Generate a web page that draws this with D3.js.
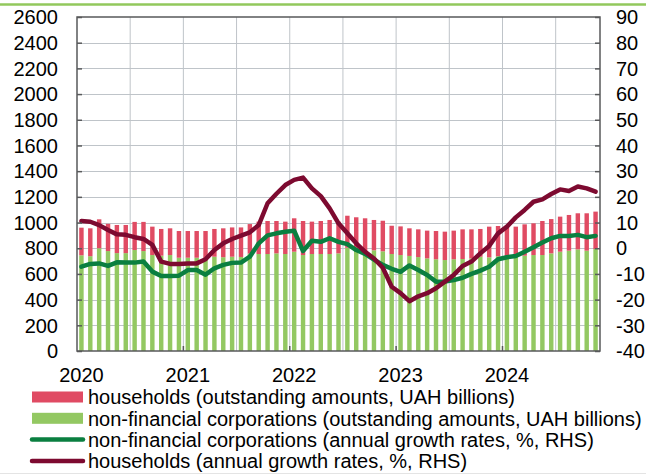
<!DOCTYPE html>
<html>
<head>
<meta charset="utf-8">
<script src="https://cdn.jsdelivr.net/npm/d3@7"></script>
<style>
  body { margin: 0; background: #fff; }
  svg { display: block; font-family: "Liberation Sans", Arial, sans-serif; }
</style>
</head>
<body>
<div id="viz"></div>
<script>
// monthly categories, Jan 2020 .. Nov 2024
const months = d3.timeMonth.range(new Date(2020, 0, 1), new Date(2024, 11, 1));
const yearLabels = ['2020', '2021', '2022', '2023', '2024'];

// outstanding amounts, UAH billions
const nfcAmounts = [745, 738, 800, 778, 762, 762, 786, 778, 747, 742,
  747, 726, 726, 726, 712, 734, 730, 734, 732, 758,
  755, 755, 760, 755, 773, 747, 755, 755, 755, 760,
  804, 791, 778, 784, 776, 755, 747, 740, 731, 721,
  714, 708, 714, 716, 721, 734, 729, 738, 730, 734,
  742, 747, 747, 760, 773, 781, 791, 781, 794];
const hhAmounts = [215, 217, 225, 212, 219, 219, 219, 227, 221, 208,
  208, 208, 208, 208, 222, 216, 225, 228, 230, 230,
  252, 257, 252, 252, 260, 265, 252, 257, 265, 247,
  249, 250, 255, 236, 238, 220, 223, 215, 216, 216,
  220, 221, 223, 231, 226, 216, 239, 235, 243, 234,
  244, 247, 265, 267, 273, 278, 281, 291, 291];

// annual growth rates, %, RHS
const nfcGrowth = [-7.2, -6.1, -5.9, -6.9, -5.5, -5.6, -5.6, -5.2, -9.1, -10.8,
  -10.8, -10.7, -8.5, -8.5, -10.3, -7.8, -6.5, -5.7, -5.6, -3.3,
  1.9, 5.0, 5.8, 6.4, 6.8, -1.1, 2.9, 2.5, 3.9, 2.5,
  1.6, -0.7, -2.2, -4.4, -6.5, -8.0, -9.2, -6.7, -8.5, -10.4,
  -13.0, -13.0, -12.4, -11.5, -10.0, -8.7, -7.2, -4.3, -3.5, -3.0,
  -1.4, 0.4, 2.2, 3.9, 4.8, 4.8, 5.2, 4.3, 4.8];
const hhGrowth = [10.6, 10.3, 9.0, 7.1, 5.4, 5.2, 4.3, 3.6, 1.3, -5.2,
  -6.1, -6.1, -5.9, -5.9, -4.3, -0.7, 1.9, 3.6, 4.9, 6.2,
  9.0, 17.5, 21.2, 24.6, 26.6, 27.5, 23.3, 20.3, 15.5, 9.7,
  5.8, 1.9, -1.4, -4.0, -7.6, -15.0, -17.5, -20.6, -18.7, -17.5,
  -15.6, -13.0, -10.4, -6.9, -5.2, -2.0, 0.9, 5.8, 8.4, 12.0,
  14.9, 18.1, 19.0, 21.1, 22.9, 22.3, 24.0, 23.3, 22.0];

const leftTicks = d3.range(0, 2601, 200);
const rightTicks = d3.range(-40, 91, 10);

const legendItems = [
  { label: 'households (outstanding amounts, UAH billions)', type: 'rect', color: '#e04b63' },
  { label: 'non-financial corporations (outstanding amounts, UAH billions)', type: 'rect', color: '#93c862' },
  { label: 'non-financial corporations (annual growth rates, %, RHS)', type: 'line', color: '#0a7f40' },
  { label: 'households (annual growth rates, %, RHS)', type: 'line', color: '#7d0a30' }
];

const W = 646, H = 474;
const plot = { left: 77, right: 600, top: 17, bottom: 351 };
const fontSize = 20;

const svg = d3.select('#viz').append('svg')
  .attr('width', W)
  .attr('height', H);

// decorative rule on top
svg.append('line')
  .attr('x1', 0).attr('x2', W)
  .attr('y1', 4.5).attr('y2', 4.5)
  .attr('stroke', '#92c85c')
  .attr('stroke-width', 2.5);
svg.append('line')
  .attr('x1', 0).attr('x2', W)
  .attr('y1', 473.5).attr('y2', 473.5)
  .attr('stroke', '#e4e4e4');

const x = d3.scaleBand()
  .domain(months)
  .range([plot.left, plot.right])
  .paddingInner(0.5)
  .paddingOuter(0.25);
const step = x.step();

const yL = d3.scaleLinear().domain([0, 2600]).range([plot.bottom, plot.top]);
const yR = d3.scaleLinear().domain([-40, 90]).range([plot.bottom, plot.top]);

// gridlines
const grid = svg.append('g').attr('stroke', '#bfc4c9').attr('stroke-width', 1);
grid.selectAll('.hgrid')
  .data(leftTicks.slice(1, -1))
  .enter().append('line')
  .attr('x1', plot.left).attr('x2', plot.right)
  .attr('y1', d => Math.round(yL(d)) + 0.5)
  .attr('y2', d => Math.round(yL(d)) + 0.5);
grid.selectAll('.vgrid')
  .data(months.filter((m, i) => i > 0 && i % 6 === 0))
  .enter().append('line')
  .attr('x1', d => x(d) - step * 0.25)
  .attr('x2', d => x(d) - step * 0.25)
  .attr('y1', plot.top).attr('y2', plot.bottom);

// stacked bars
const bars = svg.append('g');
bars.selectAll('.nfc')
  .data(months)
  .enter().append('rect')
  .attr('x', d => x(d))
  .attr('width', x.bandwidth())
  .attr('y', (d, i) => yL(nfcAmounts[i]))
  .attr('height', (d, i) => yL(0) - yL(nfcAmounts[i]))
  .attr('fill', legendItems[1].color);
bars.selectAll('.hh')
  .data(months)
  .enter().append('rect')
  .attr('x', d => x(d))
  .attr('width', x.bandwidth())
  .attr('y', (d, i) => yL(nfcAmounts[i] + hhAmounts[i]))
  .attr('height', (d, i) => yL(nfcAmounts[i]) - yL(nfcAmounts[i] + hhAmounts[i]))
  .attr('fill', legendItems[0].color);

// growth lines
const line = series => d3.line()
  .x((d, i) => x(months[i]) + x.bandwidth() / 2)
  .y(d => yR(d))(series);

[[nfcGrowth, legendItems[2].color], [hhGrowth, legendItems[3].color]].forEach(([s, c]) => {
  svg.append('path')
    .attr('d', line(s))
    .attr('fill', 'none')
    .attr('stroke', c)
    .attr('stroke-width', 4.5)
    .attr('stroke-linejoin', 'round')
    .attr('stroke-linecap', 'round');
});

// frame and axes
const axisColor = '#58595b';
svg.append('rect')
  .attr('x', plot.left).attr('y', plot.top)
  .attr('width', plot.right - plot.left)
  .attr('height', plot.bottom - plot.top)
  .attr('fill', 'none')
  .attr('stroke', axisColor)
  .attr('stroke-width', 1.5);

const leftAxis = svg.append('g')
  .attr('transform', `translate(${plot.left},0)`)
  .call(d3.axisRight(yL).tickValues(leftTicks).tickSize(5).tickFormat(''));
const rightAxis = svg.append('g')
  .attr('transform', `translate(${plot.right},0)`)
  .call(d3.axisLeft(yR).tickValues(rightTicks).tickSize(5).tickFormat(''));
[leftAxis, rightAxis].forEach(a => {
  a.select('.domain').remove();
  a.selectAll('line').attr('stroke', axisColor).attr('stroke-width', 1.5);
});

svg.append('g').selectAll('line')
  .data(months.filter((m, i) => i > 0 && i % 12 === 0))
  .enter().append('line')
  .attr('x1', d => x(d) - step * 0.25)
  .attr('x2', d => x(d) - step * 0.25)
  .attr('y1', plot.bottom).attr('y2', plot.bottom - 5)
  .attr('stroke', axisColor)
  .attr('stroke-width', 1.5);

// tick labels
svg.append('g').selectAll('text')
  .data(leftTicks)
  .enter().append('text')
  .attr('x', 58)
  .attr('y', d => yL(d))
  .attr('dy', '0.36em')
  .attr('text-anchor', 'end')
  .attr('font-size', fontSize)
  .text(d => d);

svg.append('g').selectAll('text')
  .data(rightTicks)
  .enter().append('text')
  .attr('x', 616)
  .attr('y', d => yR(d))
  .attr('dy', '0.36em')
  .attr('font-size', fontSize)
  .text(d => d);

svg.append('g').selectAll('text')
  .data(yearLabels)
  .enter().append('text')
  .attr('x', (d, i) => x(months[i * 12]) + x.bandwidth() / 2)
  .attr('y', 382)
  .attr('text-anchor', 'middle')
  .attr('font-size', fontSize)
  .text(d => d);

// legend
const legend = svg.append('g');
legendItems.forEach((item, i) => {
  const cy = 397 + i * 21.3;
  if (item.type === 'rect') {
    legend.append('rect')
      .attr('x', 32).attr('y', cy - 5.5)
      .attr('width', 51).attr('height', 11)
      .attr('fill', item.color);
  } else {
    legend.append('line')
      .attr('x1', 32).attr('x2', 83)
      .attr('y1', cy).attr('y2', cy)
      .attr('stroke', item.color)
      .attr('stroke-width', 4.5)
      .attr('stroke-linecap', 'round');
  }
  legend.append('text')
    .attr('x', 88)
    .attr('y', cy)
    .attr('dy', '0.36em')
    .attr('font-size', fontSize)
    .text(item.label);
});
</script>
</body>
</html>
